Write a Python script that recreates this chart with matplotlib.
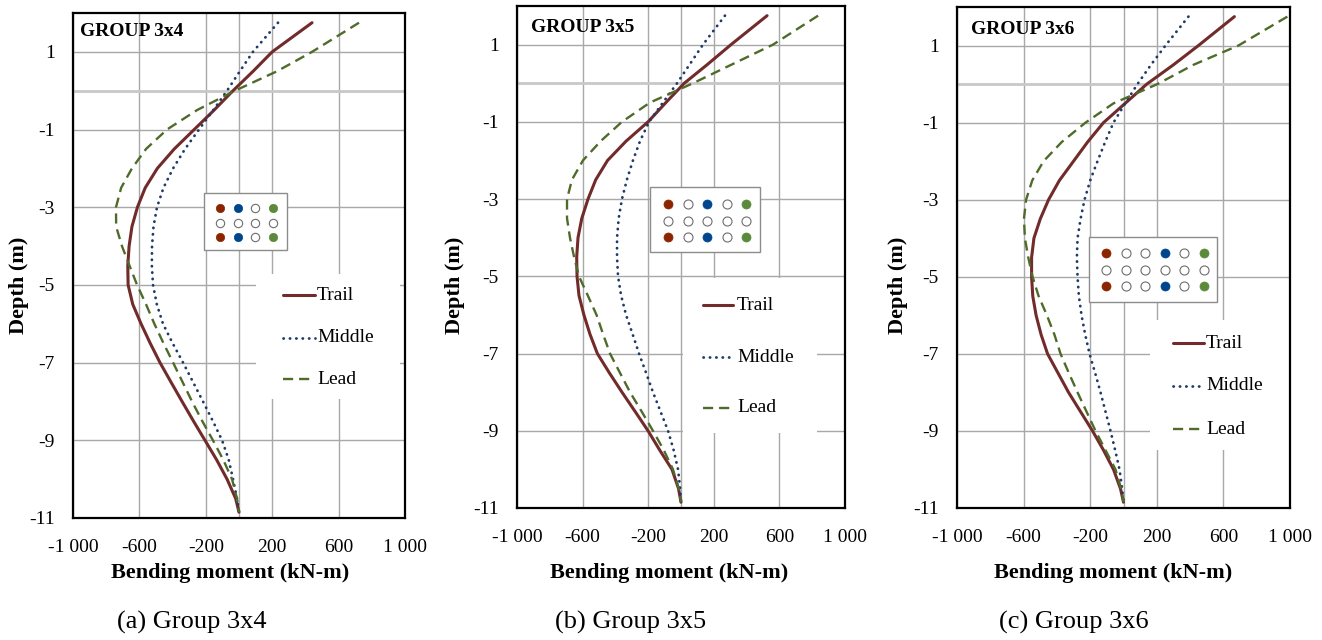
import matplotlib
matplotlib.use("Agg")
import matplotlib.pyplot as plt
from matplotlib.patches import Rectangle
from matplotlib.lines import Line2D

plt.rcParams['font.family'] = ['Liberation Serif', 'DejaVu Serif']

W, H = 1322, 640

# ---------------- data ----------------
depth = [1.75, 1.0, 0.5, 0.0, -0.5, -1.0, -1.5, -2.0, -2.5, -3.0, -3.5, -4.0, -4.5,
         -5.0, -5.5, -6.0, -6.5, -7.0, -7.5, -8.0, -8.5, -9.0, -9.5, -10.0, -10.5, -10.85]

trail_3x4 = [440, 200, 85, -36, -150, -270, -390, -492, -565, -612, -645, -662, -670,
             -668, -640, -590, -535, -476, -410, -343, -275, -205, -135, -72, -20, 0]
middle_3x4 = [235, 84, 5, -72, -155, -241, -325, -397, -455, -494, -515, -524, -525,
              -518, -495, -458, -400, -337, -277, -217, -158, -102, -62, -36, -12, 0]
lead_3x4 = [723, 440, 229, -24, -253, -434, -560, -645, -710, -741, -740, -705, -660,
            -614, -560, -510, -455, -397, -340, -283, -222, -157, -95, -42, -12, 0]

trail_3x5 = [525, 305, 165, 20, -92, -201, -335, -448, -520, -567, -605, -628, -636,
             -634, -622, -592, -555, -510, -437, -360, -280, -201, -130, -55, -15, 0]
middle_3x5 = [268, 134, 55, -24, -110, -195, -250, -293, -330, -360, -380, -390, -390,
              -384, -365, -335, -295, -256, -213, -171, -125, -79, -45, -18, -5, 0]
lead_3x5 = [836, 561, 317, 73, -189, -360, -490, -598, -665, -695, -695, -677, -652,
            -622, -568, -515, -475, -433, -372, -311, -240, -171, -105, -49, -14, 0]

trail_3x6 = [666, 450, 300, 140, 10, -120, -215, -300, -385, -450, -500, -538, -552,
             -552, -545, -525, -495, -456, -393, -330, -258, -186, -120, -60, -18, 0]
middle_3x6 = [390, 252, 165, 84, 10, -60, -110, -156, -200, -234, -258, -276, -280,
              -276, -268, -252, -230, -204, -170, -138, -108, -78, -50, -24, -8, 0]
lead_3x6 = [984, 690, 420, 204, -60, -228, -370, -480, -548, -585, -598, -592, -572,
            -546, -510, -460, -415, -378, -328, -276, -222, -168, -108, -48, -14, 0]

groups = ["GROUP 3x4", "GROUP 3x5", "GROUP 3x6"]
captions = ["(a) Group 3x4", "(b) Group 3x5", "(c) Group 3x6"]
series_names = ["Trail", "Middle", "Lead"]

pile_3x4 = ["RBOG", "OOOO", "RBOG"]
pile_3x5 = ["ROBOG", "OOOOO", "ROBOG"]
pile_3x6 = ["ROOBOG", "OOOOOO", "ROOBOG"]

x_ticks = [-1000, -600, -200, 200, 600, 1000]
x_tick_labels = ["-1 000", "-600", "-200", "200", "600", "1 000"]
y_ticks = [1, -1, -3, -5, -7, -9, -11]
y_tick_labels = ["1", "-1", "-3", "-5", "-7", "-9", "-11"]

# ---------------- styles / layout ----------------
c_trail = '#722B2B'
c_middle = '#1F3A68'
c_lead = '#4F6B2A'
pile_colors = {'R': '#8B2500', 'B': '#00468C', 'G': '#5B8A3A'}

panels = [
    dict(ax=(73, 13, 405, 518), data=(trail_3x4, middle_3x4, lead_3x4), pile=pile_3x4,
         pbox=(204, 193, 287, 250), pdot=(220, 208), pstep=(17.7, 14.5), pms=6.0,
         lbox=(256, 274, 400, 399), lh=(283, 315), ltx=317, lrows=(295, 338, 379),
         title=(80, 32), ylab=(19, 285), xlab=(230, 573), xtly=547, cap=(192, 622)),
    dict(ax=(517, 6, 845, 508), data=(trail_3x5, middle_3x5, lead_3x5), pile=pile_3x5,
         pbox=(650, 187, 760, 252), pdot=(668, 204), pstep=(19.5, 16.5), pms=6.5,
         lbox=(683, 278, 817, 433), lh=(703, 733), ltx=737, lrows=(305, 357, 408),
         title=(531, 27), ylab=(455, 285), xlab=(669, 573), xtly=537, cap=(631, 622)),
    dict(ax=(957, 7, 1290, 508), data=(trail_3x6, middle_3x6, lead_3x6), pile=pile_3x6,
         pbox=(1089, 237, 1217, 302), pdot=(1106, 253), pstep=(19.6, 16.5), pms=6.5,
         lbox=(1150, 320, 1290, 450), lh=(1173, 1204), ltx=1206, lrows=(343, 386, 429),
         title=(971, 29), ylab=(898, 285), xlab=(1113, 573), xtly=537, cap=(1074, 622)),
]

styles = [
    dict(color=c_trail, lw=2.2, ls='-', solid_capstyle='round'),
    dict(color=c_middle, lw=2.0, ls=(0, (0.1, 2.2)), dash_capstyle='round'),
    dict(color=c_lead, lw=1.7, ls=(0, (4.3, 2.5))),
]


def fx(x):
    return x / W


def fy(y):
    return 1 - y / H


fig = plt.figure(figsize=(W / 100, H / 100), dpi=100)
fig.patch.set_facecolor('white')

for i, p in enumerate(panels):
    x0, y0, x1, y1 = p['ax']
    ax = fig.add_axes([fx(x0), fy(y1), (x1 - x0) / W, (y1 - y0) / H])
    ax.set_xlim(-1000, 1000)
    ax.set_ylim(-11, 2)
    ax.set_axisbelow(True)
    ax.set_xticks(x_ticks)
    ax.set_xticklabels([])
    ax.set_yticks(y_ticks)
    ax.set_yticklabels(y_tick_labels, fontsize=14)
    ax.tick_params(length=0, pad=13)
    ax.grid(True, color='#a8a8a8', lw=1.0)
    ax.axhline(0, color='#c8c8c8', lw=2.0, zorder=0.8)
    ax.axvline(0, color='#a8a8a8', lw=1.0, zorder=0.8)
    for s in ax.spines.values():
        s.set_color('black')
        s.set_linewidth(1.6)
        s.set_zorder(5)

    # x tick labels as text at reference positions
    for xv, lab in zip(x_ticks, x_tick_labels):
        xp = x0 + (xv + 1000) / 2000 * (x1 - x0)
        fig.text(fx(xp), fy(p['xtly']), lab, ha='center', va='center', fontsize=14)

    # curves
    for vals, st, nm in zip(p['data'], styles, series_names):
        ax.plot(vals, depth, zorder=3, **st)

    # pile layout box
    bx0, by0, bx1, by1 = p['pbox']
    ax.add_patch(Rectangle((fx(bx0), fy(by1)), (bx1 - bx0) / W, (by1 - by0) / H,
                           transform=fig.transFigure, facecolor='white',
                           edgecolor='#8c8c8c', lw=1.0, zorder=2))
    dx0, dy0 = p['pdot']
    sx, sy = p['pstep']
    for r, row in enumerate(p['pile']):
        for c, ch in enumerate(row):
            px, py = dx0 + c * sx, dy0 + r * sy
            if ch == 'O':
                ax.plot([fx(px)], [fy(py)], transform=fig.transFigure, marker='o',
                        ms=p['pms'], mfc='white', mec='#6e6e6e', mew=0.8, ls='none',
                        zorder=2.5, clip_on=False)
            else:
                ax.plot([fx(px)], [fy(py)], transform=fig.transFigure, marker='o',
                        ms=p['pms'], mfc=pile_colors[ch], mec=pile_colors[ch], mew=0.5,
                        ls='none', zorder=2.5, clip_on=False)

    # legend
    lx0, ly0, lx1, ly1 = p['lbox']
    ax.add_patch(Rectangle((fx(lx0), fy(ly1)), (lx1 - lx0) / W, (ly1 - ly0) / H,
                           transform=fig.transFigure, facecolor='white',
                           edgecolor='none', zorder=2))
    h0, h1 = p['lh']
    for st, nm, ry in zip(styles, series_names, p['lrows']):
        ax.add_line(Line2D([fx(h0), fx(h1)], [fy(ry), fy(ry)], transform=fig.transFigure,
                           zorder=4, clip_on=False, **st))
        ax.text(fx(p['ltx']), fy(ry), nm, transform=fig.transFigure, ha='left',
                va='center', fontsize=14, zorder=4)

    # title inside
    tx, ty = p['title']
    fig.text(fx(tx), fy(ty), groups[i], ha='left', va='center', fontsize=14,
             fontweight='bold')
    # axis labels
    yx, yy = p['ylab']
    fig.text(fx(yx), fy(yy), 'Depth (m)', rotation=90, ha='center', va='center',
             fontsize=16, fontweight='bold')
    xx, xy = p['xlab']
    fig.text(fx(xx), fy(xy), 'Bending moment (kN-m)', ha='center', va='center',
             fontsize=16, fontweight='bold')
    cx, cy = p['cap']
    fig.text(fx(cx), fy(cy), captions[i], ha='center', va='center', fontsize=19)

fig.savefig('out.png', dpi=100, facecolor='white')
